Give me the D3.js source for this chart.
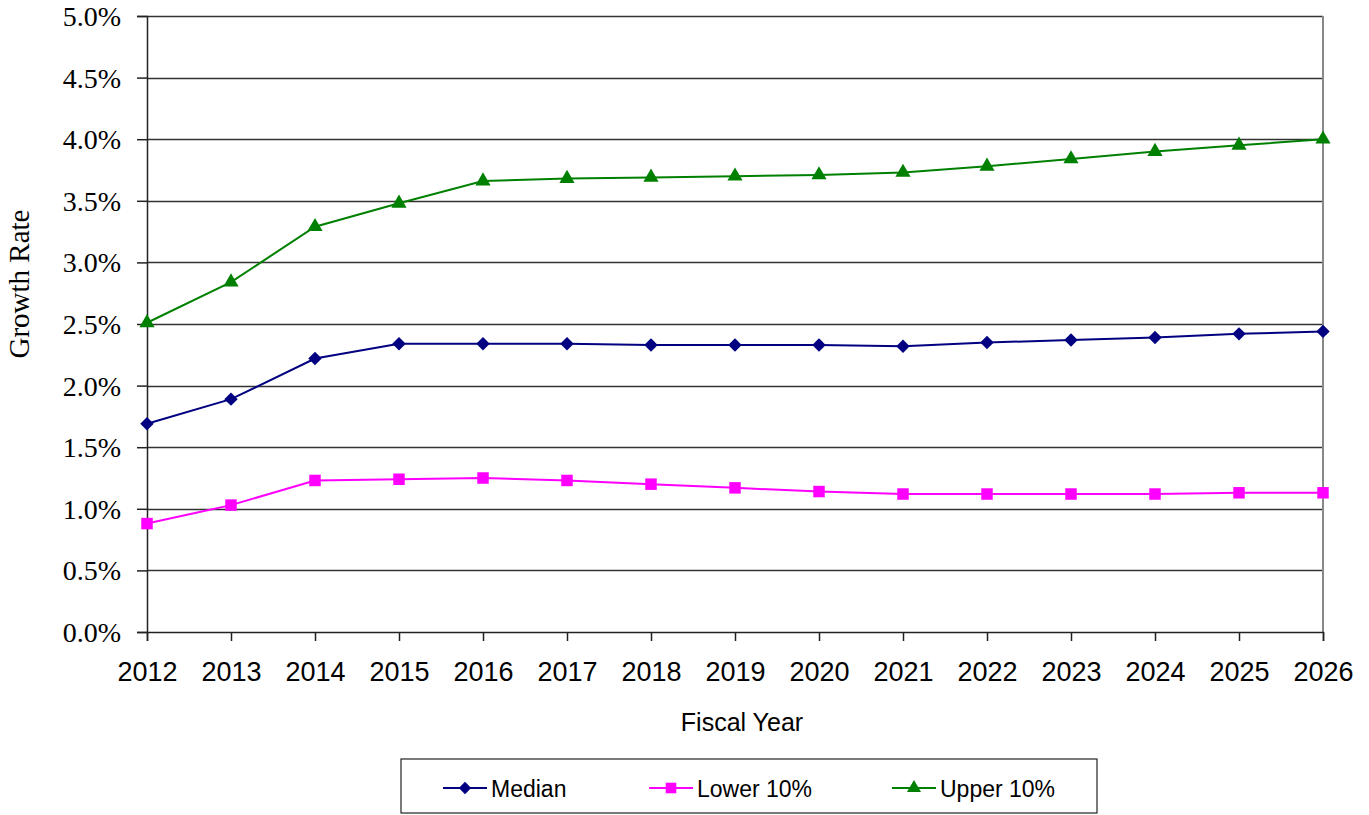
<!DOCTYPE html>
<html>
<head>
<meta charset="utf-8">
<script src="https://cdn.jsdelivr.net/npm/d3@7"></script>
<style>
body{margin:0;background:#fff;}
svg{display:block;}
</style>
</head>
<body>
<div id="chart"></div>
<script>
const years=[2012,2013,2014,2015,2016,2017,2018,2019,2020,2021,2022,2023,2024,2025,2026];
const median=[1.69,1.89,2.22,2.34,2.34,2.34,2.33,2.33,2.33,2.32,2.35,2.37,2.39,2.42,2.44];
const lower10=[0.88,1.03,1.23,1.24,1.25,1.23,1.20,1.17,1.14,1.12,1.12,1.12,1.12,1.13,1.13];
const upper10=[2.51,2.84,3.29,3.48,3.66,3.68,3.69,3.70,3.71,3.73,3.78,3.84,3.90,3.95,4.00];
const yTicks=[0,0.5,1,1.5,2,2.5,3,3.5,4,4.5,5];
const seriesNames=['Median','Lower 10%','Upper 10%'];

(function(){
const W=1369,H=815;
const pl=147,pr=1323,pt=16,pb=632;
const serif='"Liberation Serif","Times New Roman",serif',sans='"Liberation Sans",Arial,sans-serif';
const svg=d3.select('#chart').append('svg').attr('width',W).attr('height',H);

const x=d3.scalePoint().domain(years).range([pl,pr]);
const y=d3.scaleLinear().domain([0,5]).range([pb,pt]);

// gridlines
svg.append('g').selectAll('line').data(yTicks.slice(1)).enter().append('line')
  .attr('x1',pl).attr('x2',pr).attr('y1',d=>Math.round(y(d))+0.5).attr('y2',d=>Math.round(y(d))+0.5)
  .attr('stroke','#333').attr('stroke-width',1.3);
// right border
svg.append('line').attr('x1',pr).attr('x2',pr).attr('y1',pt).attr('y2',pb)
  .attr('stroke','#888').attr('stroke-width',2);

const ya=svg.append('g').attr('transform',`translate(${pl},0)`)
  .call(d3.axisLeft(y).tickValues(yTicks).tickSize(10).tickPadding(16).tickFormat(d=>d.toFixed(1)+'%'));
ya.select('.domain').attr('stroke','#222').attr('stroke-width',1.5);
ya.selectAll('.tick line').attr('stroke','#222').attr('stroke-width',1.5);
ya.selectAll('text').attr('font-family',serif).attr('font-size',28).attr('fill','#000').attr('dy','0.34em');

const xa=svg.append('g').attr('transform',`translate(0,${pb})`)
  .call(d3.axisBottom(x).tickSize(9).tickPadding(21).tickFormat(d=>d));
xa.select('.domain').attr('stroke','#222').attr('stroke-width',1.5);
xa.selectAll('.tick line').attr('stroke','#222').attr('stroke-width',1.5);
xa.selectAll('text').attr('font-family',sans).attr('font-size',27).attr('fill','#000');

svg.append('text').attr('transform','translate(29,284) rotate(-90)').attr('text-anchor','middle')
  .attr('font-family',serif).attr('font-size',29).text('Growth Rate');
svg.append('text').attr('x',742).attr('y',731).attr('text-anchor','middle')
  .attr('font-family',sans).attr('font-size',25).text('Fiscal Year');

const series=[
 {name:seriesNames[0],vals:median,color:'#000080',sym:d3.symbolDiamond2,size:115},
 {name:seriesNames[1],vals:lower10,color:'#ff00ff',sym:d3.symbolSquare,size:132},
 {name:seriesNames[2],vals:upper10,color:'#008000',sym:d3.symbolTriangle,size:100}
];
const line=d3.line().x((d,i)=>x(years[i])).y(d=>y(d));
series.forEach(s=>{
  svg.append('path').attr('d',line(s.vals)).attr('fill','none').attr('stroke',s.color).attr('stroke-width',2);
  svg.append('g').selectAll('path').data(s.vals).enter().append('path')
    .attr('d',d3.symbol().type(s.sym).size(s.size))
    .attr('transform',(d,i)=>`translate(${x(years[i])},${y(d)})`)
    .attr('fill',s.color);
});

// legend
const lg=svg.append('g');
lg.append('rect').attr('x',401).attr('y',759).attr('width',696).attr('height',54)
  .attr('fill','#fff').attr('stroke','#222').attr('stroke-width',1.2);
const lx=[443,649,892];
series.forEach((s,i)=>{
  const g=lg.append('g').attr('transform',`translate(${lx[i]},788)`);
  g.append('line').attr('x1',0).attr('x2',44).attr('stroke',s.color).attr('stroke-width',2);
  g.append('path').attr('d',d3.symbol().type(s.sym).size(s.size*0.85)).attr('transform','translate(22,0)').attr('fill',s.color);
  g.append('text').attr('x',48).attr('y',9).attr('font-family',sans)
    .attr('font-size',23).text(s.name);
});
})();
</script>
</body>
</html>
